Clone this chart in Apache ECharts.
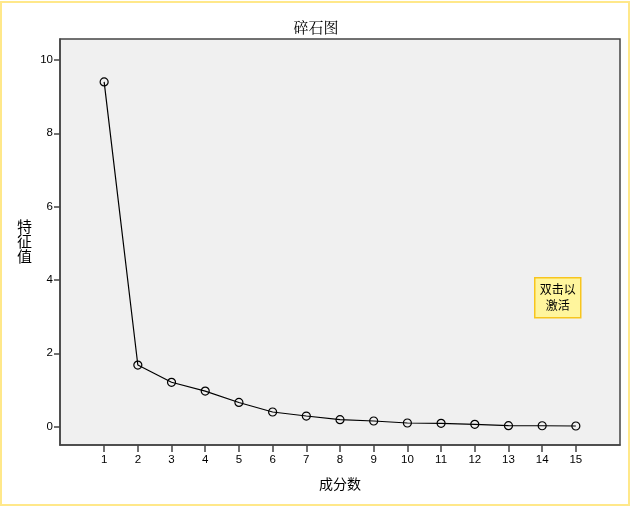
<!DOCTYPE html>
<html><head><meta charset="utf-8">
<script src="https://cdn.jsdelivr.net/npm/echarts@6/dist/echarts.min.js"></script>
<style>html,body{margin:0;padding:0;background:#fff}#c{width:632px;height:511px}</style>
</head><body><div id="c"></div>
<script>
var components = [1,2,3,4,5,6,7,8,9,10,11,12,13,14,15];
var eigenvalues = [9.40,1.68,1.21,0.97,0.66,0.40,0.29,0.19,0.155,0.10,0.09,0.064,0.027,0.025,0.018];
var yTicks = [0,2,4,6,8,10];
var titleText = '碎石图';
var xName = '成分数';
var yName = '特征值';
var noteText = '双击以\n激活';

var chart = echarts.init(document.getElementById('c'), null, {renderer:'canvas'});
var font = 'Arial, "Liberation Sans", "Noto Sans CJK SC", sans-serif';
chart.setOption({
  animation:false,
  backgroundColor:'#fff',
  title:{text:titleText,left:'center',top:15,itemGap:0,
    textStyle:{fontSize:15,fontWeight:'normal',color:'#000',fontFamily:'"Noto Serif CJK SC","Noto Sans CJK SC",serif'}},
  grid:{left:60,top:39,right:12,bottom:66,show:true,backgroundColor:'#f0f0f0',borderColor:'#444',borderWidth:1.5},
  xAxis:{type:'value',min:-0.31,max:16.31,
    name:xName,nameLocation:'middle',nameGap:32,
    nameTextStyle:{fontSize:14,color:'#000',fontFamily:'"Noto Sans CJK SC",sans-serif'},
    axisLine:{show:true,onZero:false,lineStyle:{color:'#444',width:1.5}},
    axisTick:{show:true,length:7,customValues:components,lineStyle:{color:'#444',width:1.5}},
    axisLabel:{customValues:components,color:'#000',fontSize:11.5,fontFamily:font,margin:9},
    splitLine:{show:false}},
  yAxis:{type:'value',min:-0.5,max:10.57,
    axisLine:{show:true,onZero:false,lineStyle:{color:'#444',width:1.5}},
    axisTick:{show:true,length:6,customValues:yTicks,lineStyle:{color:'#444',width:1.5}},
    axisLabel:{customValues:yTicks,color:'#000',fontSize:11.5,fontFamily:font,margin:7},
    splitLine:{show:false}},
  graphic:[
    {type:'rect',shape:{x:1,y:2,width:628,height:503},style:{fill:'none',stroke:'#ffe88a',lineWidth:2},silent:true},
    {type:'text',left:17,top:219,style:{text:'特\n征\n值',fontSize:15,lineHeight:15,fill:'#000',fontFamily:'"Noto Sans CJK SC",sans-serif'}},
    {type:'group',left:534,top:277,children:[
      {type:'rect',shape:{x:0,y:0,width:46,height:40},style:{fill:'#fff59d',stroke:'#f7c51e',lineWidth:1.5}},
      {type:'text',style:{text:noteText,x:23,y:20,align:'center',verticalAlign:'middle',fontSize:12,lineHeight:16,fill:'#000',fontFamily:'"Noto Sans CJK SC",sans-serif'}}
    ]}
  ],
  series:[{type:'line',data:components.map(function(c,i){return [c,eigenvalues[i]];}),
    symbol:'circle',symbolSize:8,showAllSymbol:true,
    lineStyle:{color:'#000',width:1.2},
    itemStyle:{color:'rgba(0,0,0,0)',borderColor:'#000',borderWidth:1.2}}]
});
</script></body></html>
